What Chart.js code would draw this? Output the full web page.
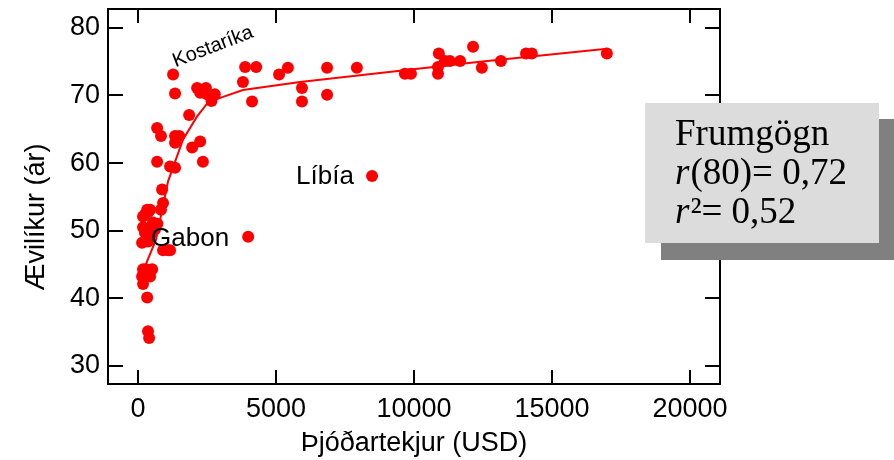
<!DOCTYPE html>
<html><head><meta charset="utf-8">
<script src="https://cdn.jsdelivr.net/npm/chart.js@4/dist/chart.umd.min.js"></script>
<style>html,body{margin:0;padding:0;background:#fff}#wrap{width:894px;height:460px}</style>
</head><body><div id="wrap"><canvas id="c" width="894" height="460"></canvas></div>
<script>
// ---- data ----
const incomeUSD = [1270,1340,2140,2460,2250,2500,2780,2660,1850,690,830,1340,1490,1340,2250,1960,690,2350,1160,1340,
  3880,4280,3800,5110,4130,5430,6850,7930,5940,5940,6850,9670,9890,10900,10870,10870,11120,11300,11670,12140,12460,13150,14060,14270,16990,
  8480,3990,
  870,905,830,330,435,250,180,540,330,615,180,250,145,360,905,1160,1090,180,510,290,145,435,180,330,360,400,470,700,380];
const lifeExpectancy = [73.1,70.3,71.1,71.1,70.4,70.2,70.2,69.2,67.1,65.2,64,64,64,63,63.2,62.3,60.2,60.2,59.5,59.3,
  74.2,74.2,72,73.1,69.1,74.1,74.1,74.1,71.1,69.1,70.1,73.2,73.2,76.2,74.2,73.2,75.1,75.1,75.1,77.2,74.1,75.1,76.2,76.2,76.2,
  58.1,49.1,
  56.1,54.1,53.1,53.1,53.1,52.4,52.1,51.2,50.2,50.2,50.5,49.7,48.2,48.4,47.1,47.1,47.1,44.3,44.3,44.3,43.2,43.2,42.1,40.1,35.1,34.1,49.5,51,52.8];
const fitIncome = [181,652,1087,1630,2140,2540,3080,3800,5870,12390,16990];
const fitLife   = [44.0,48.7,57.3,63.5,66.9,69.0,69.8,70.8,72.0,75.0,76.9];
const xTickValues = [0,5000,10000,15000,20000];
const yTickValues = [30,40,50,60,70,80];
const xAxisTitle = 'Þjóðartekjur (USD)';
const yAxisTitle = 'Ævilíkur (ár)';
const pointLabels = [
  {text:'Kostaríka', x:2717, y:77.2, size:20, rot:-21},
  {text:'Líbía', x:6775, y:58.0, size:26, rot:0},
  {text:'Gabon', x:1884, y:48.8, size:26, rot:0}
];
const statTitle = 'Frumgögn';
const statN = 80;
const statR = '0,72';
const statR2 = '0,52';

const SANS = "'Liberation Sans', Arial, sans-serif";
const SERIF = "'Liberation Serif', 'Times New Roman', serif";
Chart.defaults.font.family = SANS;
Chart.defaults.color = '#000';

const points = incomeUSD.map((v,i)=>({x:v, y:lifeExpectancy[i]}));
const fit = fitIncome.map((v,i)=>({x:v, y:fitLife[i]}));

const framePlugin = {
  id:'frame',
  afterDatasetsDraw(chart){
    const {ctx, chartArea:a, scales:{x,y}} = chart;
    ctx.save();
    ctx.strokeStyle='#000'; ctx.lineWidth=2;
    ctx.strokeRect(a.left, a.top, a.right-a.left, a.bottom-a.top);
    ctx.beginPath();
    xTickValues.forEach(v=>{
      const px = Math.round(x.getPixelForValue(v));
      ctx.moveTo(px, a.bottom); ctx.lineTo(px, a.bottom-14);
      ctx.moveTo(px, a.top); ctx.lineTo(px, a.top+14);
    });
    yTickValues.forEach(v=>{
      const py = Math.round(y.getPixelForValue(v));
      ctx.moveTo(a.left, py); ctx.lineTo(a.left+15, py);
      ctx.moveTo(a.right, py); ctx.lineTo(a.right-15, py);
    });
    ctx.stroke();
    ctx.fillStyle='#000';
    ctx.textAlign='center'; ctx.textBaseline='middle';
    pointLabels.forEach(l=>{
      ctx.save();
      ctx.translate(x.getPixelForValue(l.x), y.getPixelForValue(l.y));
      ctx.rotate(l.rot*Math.PI/180);
      ctx.font = l.size+'px '+SANS;
      ctx.fillText(l.text,0,0);
      ctx.restore();
    });
    ctx.save();
    ctx.translate(37, 217);
    ctx.rotate(-Math.PI/2);
    ctx.font = '27px '+SANS;
    ctx.fillText(yAxisTitle,0,0);
    ctx.restore();
    ctx.restore();
  },
  afterDraw(chart){
    const ctx = chart.ctx;
    ctx.save();
    ctx.fillStyle='#808080'; ctx.fillRect(661,119,233,141);
    ctx.fillStyle='#dcdcdc'; ctx.fillRect(645,103,234,140);
    ctx.fillStyle='#000'; ctx.textAlign='left'; ctx.textBaseline='alphabetic';
    const x0 = 675;
    ctx.font = '37px '+SERIF;
    ctx.fillText(statTitle, x0, 145);
    ctx.font = 'italic 37px '+SERIF;
    ctx.fillText('r', x0, 184);
    let w = ctx.measureText('r').width;
    ctx.font = '37px '+SERIF;
    ctx.fillText('('+statN+')= '+statR, x0+w+1, 184);
    ctx.font = 'italic 37px '+SERIF;
    ctx.fillText('r', x0, 223);
    ctx.font = '37px '+SERIF;
    ctx.fillText('²= '+statR2, x0+w+1, 223);
    ctx.restore();
  }
};

new Chart(document.getElementById('c'), {
  type:'scatter',
  data:{datasets:[
    {label:'Frumgögn', data:points, backgroundColor:'#ff0000', borderWidth:0, pointRadius:6, pointHoverRadius:6},
    {label:'fit', data:fit, showLine:true, borderColor:'#ff0000', borderWidth:2, pointRadius:0, fill:false, tension:0}
  ]},
  options:{
    responsive:false, animation:false, devicePixelRatio:1,
    layout:{padding:{left:0, top:9, right:174, bottom:0}},
    plugins:{legend:{display:false}, tooltip:{enabled:false}},
    scales:{
      x:{type:'linear', min:-1090, max:21090,
        afterBuildTicks:s=>{s.ticks = xTickValues.map(v=>({value:v}));},
        afterFit:s=>{s.height=76; s.paddingLeft=0; s.paddingRight=0;},
        grid:{display:false, drawTicks:false}, border:{display:false},
        ticks:{font:{size:27}, color:'#000', padding:9, maxRotation:0, autoSkip:false, callback:v=>String(v)},
        title:{display:true, text:xAxisTitle, font:{size:27}, color:'#000', padding:{top:0,bottom:0}}
      },
      y:{type:'linear', min:27.3, max:82.8,
        afterBuildTicks:s=>{s.ticks = yTickValues.map(v=>({value:v}));},
        afterFit:s=>{s.width=108; s.paddingTop=0; s.paddingBottom=0;},
        grid:{display:false, drawTicks:false}, border:{display:false},
        ticks:{font:{size:27}, color:'#000', padding:8, autoSkip:false, callback:v=>String(v)},
        title:{display:false}
      }
    }
  },
  plugins:[framePlugin]
});
</script></body></html>
